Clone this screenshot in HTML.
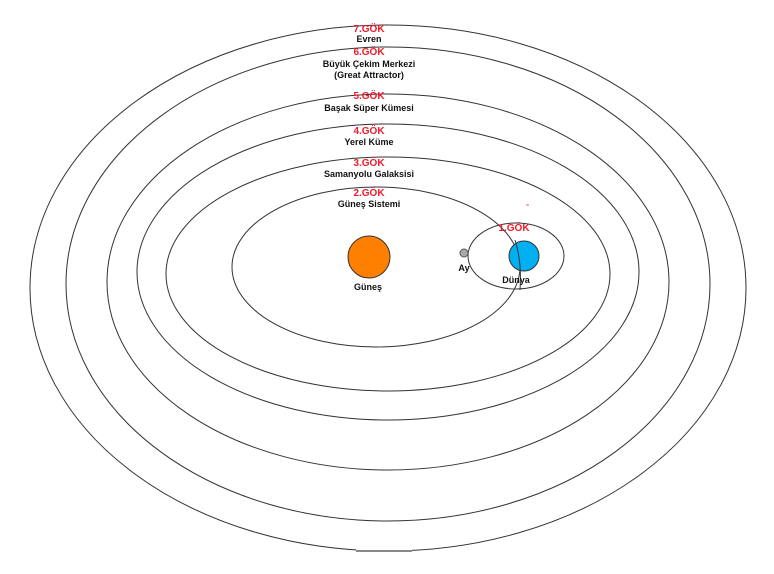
<!DOCTYPE html>
<html><head><meta charset="utf-8"><style>
html,body{margin:0;padding:0;background:#fff;}
svg{display:block;}
text{font-family:"Liberation Sans",Arial,sans-serif;font-weight:bold;font-size:9px;text-anchor:middle;}
.r{fill:#f01c2c;font-size:10px;}
.k{fill:#111;}
</style></head><body>
<svg width="774" height="574" viewBox="0 0 774 574" xmlns="http://www.w3.org/2000/svg">
<g fill="none" stroke="#333" stroke-width="1">
<ellipse cx="388" cy="288" rx="358" ry="263"/>
<ellipse cx="388" cy="284" rx="322" ry="237"/>
<ellipse cx="388" cy="282" rx="281" ry="188"/>
<ellipse cx="388" cy="272" rx="251" ry="148"/>
<ellipse cx="388" cy="274" rx="222" ry="117"/>
<ellipse cx="376" cy="267" rx="144" ry="80"/>
<ellipse cx="516" cy="256" rx="48" ry="33"/>
</g>
<line x1="356" y1="551" x2="412" y2="551" stroke="#fff" stroke-width="3"/>
<line x1="356" y1="551" x2="412" y2="551" stroke="#888" stroke-width="2"/>
<circle cx="369" cy="257" r="21" fill="#ff7f00" stroke="#333" stroke-width="1"/>
<circle cx="524" cy="256" r="15" fill="#00b0f0" stroke="#333" stroke-width="1"/>
<path d="M515 240 Q522 262 520 290" fill="none" stroke="#333" stroke-width="1"/>
<circle cx="464" cy="253" r="4" fill="#aaa" stroke="#555" stroke-width="1"/>
<line x1="526" y1="205" x2="529" y2="205" stroke="#f55" stroke-width="1"/>
<text class="r" x="369" y="32">7.GÖK</text>
<text class="k" x="369" y="42">Evren</text>
<text class="r" x="369" y="55">6.GÖK</text>
<text class="k" x="369" y="67">Büyük Çekim Merkezi</text>
<text class="k" x="369" y="78">(Great Attractor)</text>
<text class="r" x="369" y="99">5.GÖK</text>
<text class="k" x="369" y="111">Başak Süper Kümesi</text>
<text class="r" x="369" y="134">4.GÖK</text>
<text class="k" x="369" y="145">Yerel Küme</text>
<text class="r" x="369" y="166">3.GÖK</text>
<text class="k" x="369" y="177">Samanyolu Galaksisi</text>
<text class="r" x="369" y="196">2.GÖK</text>
<text class="k" x="369" y="207">Güneş Sistemi</text>
<text class="r" x="514" y="231">1.GÖK</text>
<text class="k" x="368" y="290">Güneş</text>
<text class="k" x="464" y="271">Ay</text>
<text class="k" x="516" y="283">Dünya</text>
</svg>
</body></html>
